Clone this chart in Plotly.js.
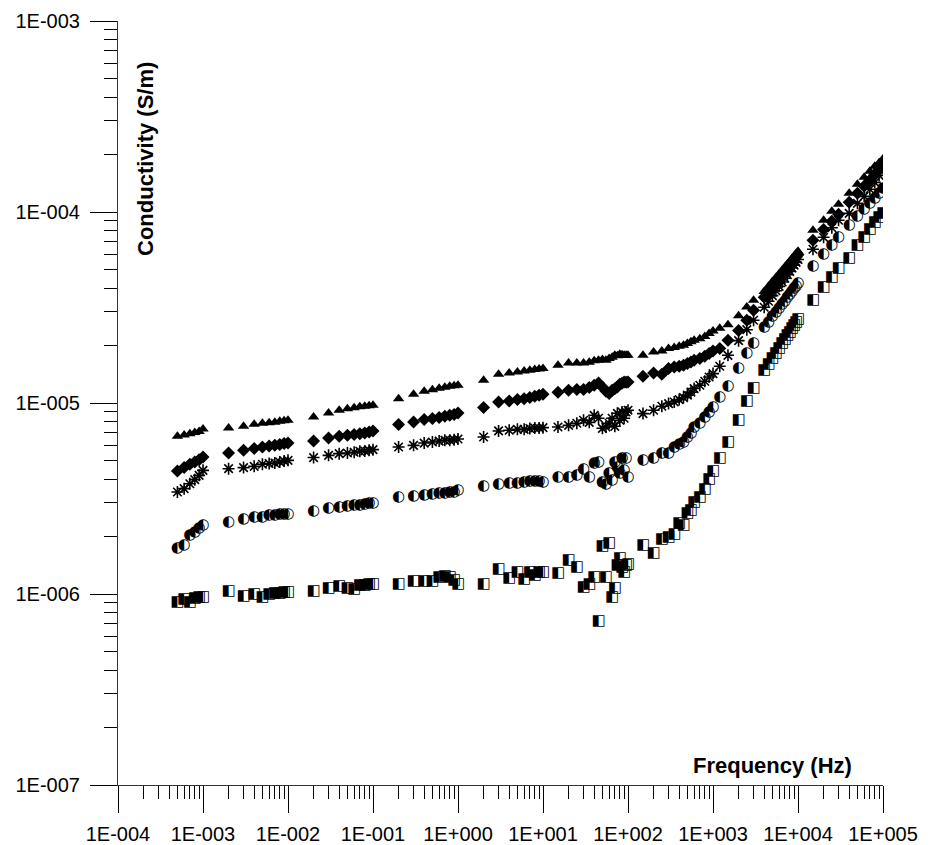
<!DOCTYPE html>
<html>
<head>
<meta charset="utf-8">
<script src="https://cdn.plot.ly/plotly-3.0.1.min.js"></script>
<style>html,body{margin:0;padding:0;background:#fff;}#chart{width:933px;height:845px;}</style>
</head>
<body>
<div id="chart"></div>
<script>
// Frequency (Hz) of every measurement point
const frequency = [
  5e-4, 6e-4, 7e-4, 8e-4, 9e-4, 1e-3,
  2e-3, 3e-3, 4e-3, 5e-3, 6e-3, 7e-3, 8e-3, 9e-3, 1e-2,
  2e-2, 3e-2, 4e-2, 5e-2, 6e-2, 7e-2, 8e-2, 9e-2, 1e-1,
  0.2, 0.3, 0.4, 0.5, 0.6, 0.7, 0.8, 0.9, 1,
  2, 3, 4, 5, 6, 7, 8, 9, 10,
  15, 20, 25, 30, 35, 40, 45, 50, 55, 60, 65, 70, 75, 80, 85, 90, 95, 100,
  150, 200, 250, 300, 350, 400, 450, 500, 550, 600, 700, 800, 900, 1000, 1200, 1500, 2000, 2500, 3000,
  4000, 4500, 5000, 5500, 6000, 6500, 7000, 7500, 8000, 8500, 9000, 9500, 10000,
  15000, 20000, 25000, 30000, 40000, 50000, 60000, 70000, 80000, 90000, 100000
];

// Conductivity values, in µS/m (multiplied by UNIT to get S/m)
const UNIT = 1e-6;

const seriesTriangle = [
  6.7, 6.8, 6.9, 7.0, 7.1, 7.3,
  7.40, 7.55, 7.73, 7.83, 7.87, 7.92, 8.02, 8.07, 8.12,
  8.45, 8.86, 9.16, 9.32, 9.44, 9.55, 9.61, 9.67, 9.73,
  10.54, 11.10, 11.51, 11.72, 11.94, 12.08, 12.23, 12.30, 12.38,
  13.15, 14.13, 14.36, 14.53, 14.71, 14.83, 14.96, 15.05, 15.15,
  15.76, 16.2, 16.2, 16.2, 16.34, 16.63, 16.74, 16.88, 16.74, 17.08, 17.35, 17.77, 17.66, 17.99, 17.88, 17.77, 17.77, 17.77,
  17.77, 18.5, 18.72, 19.27, 19.5, 19.8, 20.05, 20.5, 20.9, 21.3, 21.7, 22.3, 23.1, 23.8, 24.6, 25.7, 28.6, 31.8, 34.5,
  38.4, 40.8, 43.2, 45.4, 47.5, 49.6, 51.5, 53.5, 55.3, 57.1, 58.9, 60.6, 62.3,
  80.2, 90.5, 100.9, 109.7, 125.3, 139.6, 152.0, 163.3, 173.5, 181, 190
];

const seriesDiamond = [
  4.41, 4.59, 4.78, 4.91, 5.05, 5.21,
  5.47, 5.65, 5.77, 5.88, 5.95, 6.00, 6.06, 6.13, 6.17,
  6.32, 6.55, 6.69, 6.77, 6.85, 6.91, 6.96, 7.05, 7.14,
  7.71, 7.95, 8.19, 8.29, 8.39, 8.52, 8.62, 8.70, 8.86,
  9.46, 10.12, 10.24, 10.42, 10.54, 10.67, 10.84, 10.97, 11.10,
  11.4, 11.66, 11.75, 11.75, 12.04, 12.38, 12.73, 12.13, 11.51, 11.20, 11.66, 11.87, 12.13, 12.53, 12.68, 12.88, 12.84, 12.88,
  13.80, 14.36, 14.14, 15.14, 15.43, 15.57, 15.75, 16.08, 16.39, 16.74, 17.08, 17.56, 18.14, 18.72, 19.27, 21.3, 24.0, 27.1, 30.6,
  35.8, 38.2, 40.5, 42.7, 44.9, 46.9, 48.9, 50.8, 52.7, 54.5, 56.2, 57.9, 59.7,
  71.1, 80.9, 89.4, 97.3, 112.4, 125.3, 136.3, 146.6, 157.5, 167.3, 177.7
];

const seriesAsterisk = [
  3.42, 3.56, 3.78, 3.97, 4.18, 4.44,
  4.53, 4.59, 4.66, 4.78, 4.82, 4.85, 4.91, 4.97, 5.01,
  5.18, 5.32, 5.43, 5.47, 5.52, 5.59, 5.61, 5.65, 5.70,
  5.88, 6.00, 6.17, 6.25, 6.32, 6.38, 6.38, 6.43, 6.48,
  6.64, 7.14, 7.20, 7.28, 7.28, 7.35, 7.40, 7.40, 7.43,
  7.49, 7.64, 7.83, 8.12, 7.92, 8.62, 8.32, 7.37, 7.49, 7.83, 8.32, 7.55, 8.83, 8.12, 8.97, 8.32, 8.97, 9.16,
  8.80, 9.16, 9.61, 9.93, 10.12, 10.42, 10.67, 11.0, 11.4, 11.9, 12.38, 12.99, 13.68, 14.25, 15.57, 17.77, 21.2, 24.2, 27.1,
  31.7, 34.1, 36.5, 38.7, 40.8, 43.0, 45.0, 47.0, 48.9, 50.9, 52.7, 54.5, 56.4,
  63.8, 73.7, 82.7, 90.5, 98.4, 111.0, 120.8, 131.5, 143.0, 155.6, 169.3
];

const seriesHalfCircle = [
  1.73, 1.80, 2.03, 2.11, 2.20, 2.29,
  2.38, 2.45, 2.51, 2.53, 2.58, 2.58, 2.61, 2.61, 2.62,
  2.72, 2.80, 2.85, 2.88, 2.91, 2.91, 2.95, 2.97, 3.00,
  3.20, 3.25, 3.29, 3.33, 3.36, 3.38, 3.41, 3.42, 3.49,
  3.66, 3.75, 3.81, 3.81, 3.86, 3.91, 3.91, 3.91, 3.86,
  4.10, 4.10, 4.18, 4.50, 4.10, 4.85, 4.90, 3.86, 3.75, 4.30, 3.94, 4.91, 4.60, 4.29, 5.13, 4.44, 5.13, 4.10,
  5.01, 5.12, 5.43, 5.47, 5.88, 6.08, 6.25, 6.64, 6.96, 7.49, 7.80, 8.39, 8.97, 9.53, 10.67, 12.23, 15.29, 18.2, 20.6,
  24.9, 26.6, 28.3, 29.9, 31.4, 32.9, 34.3, 35.7, 37.1, 38.4, 39.7, 40.9, 42.2,
  52.0, 60.0, 66.9, 73.7, 85.2, 95.0, 103.3, 111.0, 118.0, 125.3, 133.1
];

const seriesHalfSquare = [
  0.90, 0.94, 0.90, 0.95, 0.96, 0.96,
  1.04, 0.97, 1.00, 0.96, 1.00, 1.01, 1.01, 1.02, 1.02,
  1.04, 1.07, 1.10, 1.07, 1.06, 1.11, 1.11, 1.13, 1.13,
  1.13, 1.16, 1.16, 1.17, 1.23, 1.24, 1.22, 1.18, 1.13,
  1.13, 1.34, 1.21, 1.30, 1.19, 1.30, 1.26, 1.30, 1.30,
  1.29, 1.51, 1.38, 1.09, 1.12, 1.22, 0.72, 1.78, 1.22, 1.84, 0.96, 1.07, 1.41, 1.54, 1.38, 1.30, 1.41, 1.44,
  1.80, 1.64, 1.93, 1.99, 2.05, 2.34, 2.29, 2.66, 2.74, 3.03, 3.22, 3.52, 3.97, 4.41, 5.12, 6.25, 8.12, 10.24, 11.9,
  14.8, 16.0, 17.2, 18.3, 19.4, 20.5, 21.5, 22.6, 23.6, 24.5, 25.5, 26.4, 27.4,
  34.5, 40.3, 45.5, 50.7, 57.2, 66.9, 73.7, 81.2, 88.3, 93.8, 98.4
];

const xTickVals = [1e-4, 1e-3, 1e-2, 1e-1, 1, 10, 100, 1e3, 1e4, 1e5];
const xTickText = ['1E-004', '1E-003', '1E-002', '1E-001', '1E+000', '1E+001', '1E+002', '1E+003', '1E+004', '1E+005'];
const yTickVals = [1e-7, 1e-6, 1e-5, 1e-4, 1e-3];
const yTickText = ['1E-007', '1E-006', '1E-005', '1E-004', '1E-003'];

const xTitle = 'Frequency (Hz)';
const yTitle = 'Conductivity (S/m)';

function minorVals(decStart, decEnd) {
  const out = [];
  for (let d = decStart; d < decEnd; d++) {
    for (let k = 2; k <= 9; k++) out.push(k * Math.pow(10, d));
  }
  return out;
}

const toSI = arr => arr.map(v => v * UNIT);
const FONT = 'Liberation Sans, Arial, Helvetica, sans-serif';

const traces = [
  { x: frequency, y: toSI(seriesHalfSquare), mode: 'text', text: frequency.map(() => '\u25E7'),
    textposition: 'middle center', textfont: { family: 'DejaVu Sans', size: 15, color: '#000', weight: 'bold' }, hoverinfo: 'none', name: 'sample 5' },
  { x: frequency, y: toSI(seriesHalfCircle), mode: 'text', text: frequency.map(() => '\u25D0'),
    textposition: 'middle center', textfont: { family: 'DejaVu Sans', size: 15, color: '#000', weight: 'bold' }, hoverinfo: 'none', name: 'sample 4' },
  { x: frequency, y: toSI(seriesAsterisk), mode: 'markers', name: 'sample 3',
    marker: { symbol: 'asterisk-open', size: 10, color: '#000', line: { width: 1.6, color: '#000' } } },
  { x: frequency, y: toSI(seriesDiamond), mode: 'markers', name: 'sample 2',
    marker: { symbol: 'diamond', size: 10, color: '#000', line: { width: 0 } } },
  { x: frequency, y: toSI(seriesTriangle), mode: 'markers', name: 'sample 1',
    marker: { symbol: 'triangle-up', size: 10, color: '#000', line: { width: 0 } } }
];

const axisCommon = {
  type: 'log', showline: true, linecolor: '#333', linewidth: 1, mirror: false,
  showgrid: false, zeroline: false,
  ticks: 'outside', ticklen: 27, tickwidth: 1, tickcolor: '#000',
  tickmode: 'array',
  tickfont: { family: FONT, size: 20, color: '#000' }
};

const layout = {
  width: 933, height: 845,
  margin: { l: 118, r: 50, t: 21, b: 60 },
  paper_bgcolor: '#fff', plot_bgcolor: '#fff',
  showlegend: false,
  xaxis: Object.assign({}, axisCommon, {
    range: [-4, 5], tickvals: xTickVals, ticktext: xTickText, ticklabelstandoff: 4,
    minor: { ticks: 'outside', ticklen: 13, tickwidth: 1, tickcolor: '#000', tickmode: 'array', tickvals: minorVals(-4, 5), showgrid: false }
  }),
  yaxis: Object.assign({}, axisCommon, {
    range: [-7, -3], tickvals: yTickVals, ticktext: yTickText, ticklabelstandoff: 6,
    minor: { ticks: 'outside', ticklen: 13, tickwidth: 1, tickcolor: '#000', tickmode: 'array', tickvals: minorVals(-7, -3), showgrid: false }
  }),
  annotations: [
    { text: '<b>' + xTitle + '</b>', xref: 'paper', yref: 'paper', x: 0.962, y: 0.026,
      xanchor: 'right', yanchor: 'middle', showarrow: false, font: { family: FONT, size: 22, color: '#000' } },
    { text: '<b>' + yTitle + '</b>', xref: 'paper', yref: 'paper', x: 0.0362, y: 0.819, textangle: -90,
      xanchor: 'center', yanchor: 'middle', showarrow: false, font: { family: FONT, size: 22, color: '#000' } }
  ]
};

Plotly.newPlot('chart', traces, layout, { displayModeBar: false, staticPlot: true });
</script>
</body>
</html>
